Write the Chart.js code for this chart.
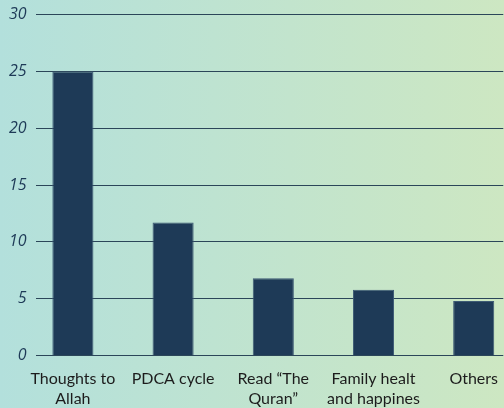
<!DOCTYPE html>
<html>
<head>
<meta charset="utf-8">
<script src="https://cdn.jsdelivr.net/npm/chart.js@4"></script>
<style>
  html, body { margin: 0; padding: 0; overflow: hidden; }
  #frame { width: 504px; height: 408px; overflow: hidden; }
  #wrap { position: relative; width: 504px; height: 418px; margin-top: -4px; }
</style>
</head>
<body>
<div id="frame"><div id="wrap"><canvas id="barChart"></canvas></div></div>
<script>
const categories = [
  ['Thoughts to', 'Allah'],
  ['PDCA cycle'],
  ['Read \u201cThe', 'Quran\u201d'],
  ['Family healt', 'and happines'],
  ['Others'],
];
const values = [25, 11.7, 6.8, 5.8, 4.8];
const yTicks = [0, 5, 10, 15, 20, 25, 30];

const barColor = '#1e3a57';
const gridColor = '#2b4659';
const textColor = '#1c1c1c';

// background gradient, teal on the left fading to pale green
const bgPlugin = {
  id: 'bg',
  beforeDraw: (chart) => {
    const { ctx, width, height } = chart;
    const g = ctx.createLinearGradient(0, 0, width, 0);
    g.addColorStop(0, '#b3e0dc');
    g.addColorStop(1, '#cde7c2');
    ctx.save();
    ctx.fillStyle = g;
    ctx.fillRect(0, 0, width, height);
    ctx.restore();
  },
};

const points = values.map((v, i) => ({ x: i, y: v }));

const ctx = document.getElementById('barChart').getContext('2d');
new Chart(ctx, {
  type: 'bar',
  data: {
    datasets: [
      {
        data: points,
        backgroundColor: barColor,
        borderColor: '#3d5a74',
        borderWidth: 1,
        categoryPercentage: 1,
        barPercentage: 0.41,
      },
    ],
  },
  plugins: [bgPlugin],
  options: {
    responsive: true,
    maintainAspectRatio: false,
    animation: false,
    layout: {
      padding: { top: 3, right: 0, left: 0, bottom: 0 },
    },
    plugins: {
      legend: { display: false },
      tooltip: { enabled: false },
    },
    scales: {
      x: {
        type: 'linear',
        offset: false,
        min: -0.372,
        max: 4.295,
        grid: { display: false },
        border: { display: false },
        ticks: {
          stepSize: 1,
          autoSkip: false,
          includeBounds: false,
          maxRotation: 0,
          padding: 6,
          color: textColor,
          font: { family: 'Lato', size: 16 },
          callback: function (value) {
            return Number.isInteger(value) ? categories[value] : '';
          },
        },
      },
      y: {
        min: 0,
        max: 30,
        afterBuildTicks: (scale) => {
          scale.ticks = yTicks.map((v) => ({ value: v }));
        },
        grid: {
          color: gridColor,
          lineWidth: 1,
          drawTicks: false,
        },
        border: { display: false },
        ticks: {
          padding: 9,
          color: '#1e3a57',
          font: { family: 'Open Sans', size: 16, style: 'italic' },
        },
      },
    },
  },
});
</script>
</body>
</html>
